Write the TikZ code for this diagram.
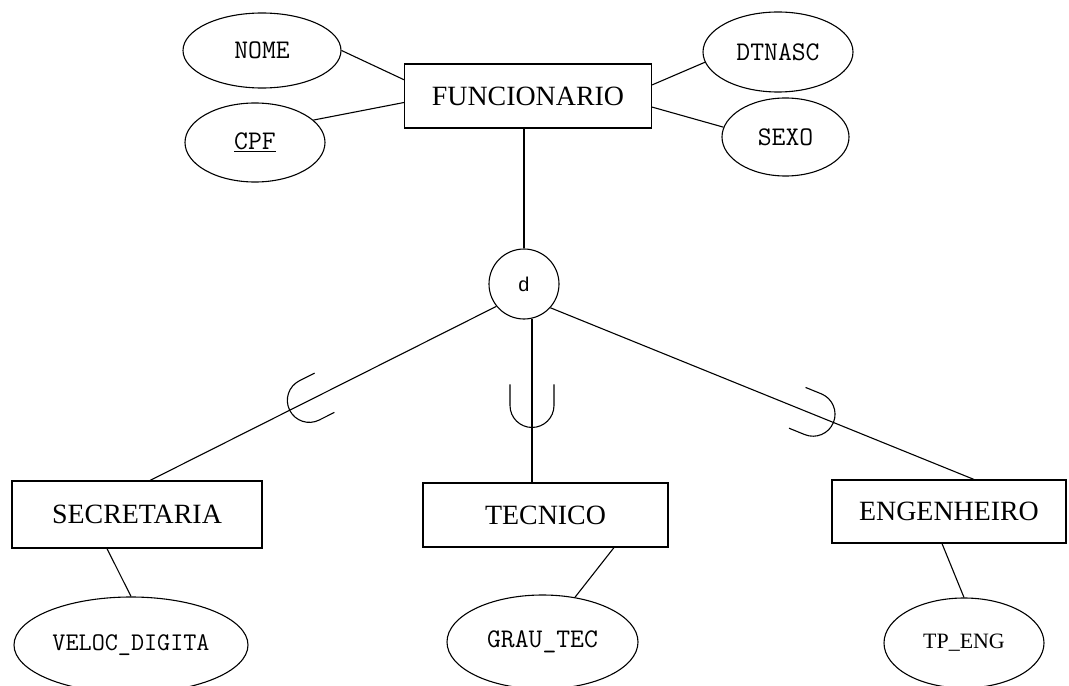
\documentclass[tikz,border=0pt]{standalone}
\usepackage{fontspec}
\setmainfont{Liberation Serif}
\newfontfamily\dfont{Liberation Sans}
\usetikzlibrary{shapes.geometric,calc}

\begin{document}
\begin{tikzpicture}[x=1bp,y=1bp,
  line width=1.1bp,
  entity/.style={draw, rectangle, inner sep=0pt, font=\fontsize{28}{30}\selectfont},
  attr/.style={draw, ellipse, inner sep=0pt, font=\ttfamily\fontsize{27}{29}\selectfont},
  spec/.style={draw, circle, inner sep=0pt, minimum size=70bp, font=\dfont\fontsize{20}{22}\selectfont},
  link/.style={line width=1.1bp},
  subsetmark/.style={line width=1.1bp}
]
\fill[white] (0,0) rectangle (1069,-686);
\useasboundingbox (0,0) rectangle (1069,-686);

% superclass and its attributes
\node[entity, minimum width=247bp, minimum height=64bp] (func) at (528,-96) {FUNCIONARIO};
\node[attr, minimum width=158bp, minimum height=75bp] (nome) at (262,-50.5) {NOME};
\node[attr, minimum width=140bp, minimum height=79bp] (cpf) at (255,-142.5) {\underline{CPF}};
\node[attr, minimum width=150bp, minimum height=80bp] (dtnasc) at (778,-52) {DTNASC};
\node[attr, minimum width=127bp, minimum height=78bp] (sexo) at (785.5,-137) {SEXO};

% disjoint specialization
\node[spec] (d) at (524,-284) {d};

% subclasses
\node[entity, minimum width=250bp, minimum height=67bp] (sec) at (137,-514.5) {SECRETARIA};
\node[entity, minimum width=245bp, minimum height=64bp] (tec) at (545.5,-515) {TECNICO};
\node[entity, minimum width=234bp, minimum height=63bp] (eng) at (949,-511.5) {ENGENHEIRO};

% subclass attributes
\node[attr, minimum width=234bp, minimum height=96bp, font=\ttfamily\fontsize{25.5}{27}\selectfont] (veloc) at (131,-645) {VELOC\_DIGITA};
\node[attr, minimum width=191bp, minimum height=94bp] (grau) at (542.5,-642) {GRAU\_TEC};
\node[attr, minimum width=160bp, minimum height=90bp, font=\fontsize{22}{24}\selectfont] (tpeng) at (964,-643) {TP\_ENG};

% attribute links
\draw[link] (nome.east) -- ($(func.north west)!0.25!(func.south west)$);
\draw[link] (cpf.21) -- ($(func.north west)!0.6!(func.south west)$);
\draw[link] ($(func.north east)!0.33!(func.south east)$) -- (dtnasc.188);
\draw[link] ($(func.north east)!0.67!(func.south east)$) -- (sexo.171);
\draw[link] ([xshift=-30bp]sec.south) -- (veloc.north);
\draw[link] ([xshift=68.5bp]tec.south) -- (grau.54);
\draw[link] ([xshift=-7bp]eng.south) -- (tpeng.north);

% specialization links
\draw[link] (d.north |- func.south) -- (d.north);
\draw[link] (d.219) -- ([xshift=13bp]sec.north);
\draw[link] (d.-77) -- (d.-77 |- tec.north);
\draw[link] (d.-42) -- ([xshift=25bp]eng.north);

% subset marks on the specialization links
\coordinate (u1) at ($(d.219)!0.54!([xshift=13bp]sec.north)$);
\coordinate (u2) at ($(d.-77)!0.53!(d.-77 |- tec.north)$);
\coordinate (u3) at ($(d.-42)!0.62!([xshift=25bp]eng.north)$);
\draw[subsetmark, shift={(u1)}, rotate=26.7] (17,22) -- (0,22) arc[start angle=90, end angle=270, radius=22] -- (17,-22);
\draw[subsetmark, shift={(u2)}, rotate=90] (21,22) -- (0,22) arc[start angle=90, end angle=270, radius=22] -- (21,-22);
\draw[subsetmark, shift={(u3)}, rotate=157.9] (17,22) -- (0,22) arc[start angle=90, end angle=270, radius=22] -- (17,-22);
\end{tikzpicture}
\end{document}
